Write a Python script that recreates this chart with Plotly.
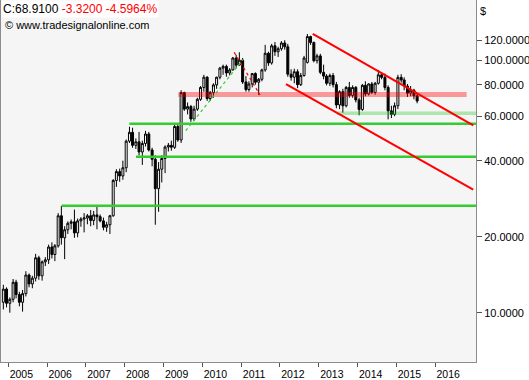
import plotly.graph_objects as go
import pandas as pd
import math

# ---- monthly OHLC (Nov 2004 .. Jul 2015) ----
opens = [11.0, 12.4, 10.9, 11.3, 13.2, 11.8, 11.0, 11.9, 14.1, 13.0, 13.7, 16.5, 14.0, 15.9, 16.2, 18.2, 17.0, 18.4, 24.2, 19.8,
         21.3, 22.6, 22.9, 20.7, 23.1, 23.5, 23.7, 24.2, 23.2, 24.4, 24.0, 23.1, 21.8, 22.3, 24.2, 33.4, 36.2, 34.8, 37.5, 47.8,
         51.8, 46.0, 47.5, 43.3, 46.8, 51.0, 44.1, 40.5, 31.0, 37.0, 40.8, 45.3, 46.0, 45.2, 54.6, 48.3, 74.4, 64.0, 65.5, 58.5,
         64.0, 70.0, 78.0, 85.6, 70.5, 74.4, 79.8, 85.6, 93.0, 94.5, 89.0, 91.5, 102.0, 95.6, 100.0, 82.0, 76.5, 80.5, 88.5, 81.8,
         84.0, 91.5, 106.5, 97.5, 114.0, 108.0, 111.0, 117.0, 113.0, 88.0, 85.6, 90.0, 80.0, 87.0, 98.0, 124.0, 117.5, 99.5, 104.0, 89.5,
         86.5, 81.0, 87.0, 80.0, 66.5, 75.0, 66.0, 78.0, 72.5, 78.0, 69.6, 63.8, 79.5, 73.5, 80.5, 74.5, 81.0, 87.5, 85.5, 78.0,
         63.0, 61.0, 66.0, 85.5, 83.5, 79.0, 74.0, 76.0, 72.23]
highs = [12.9, 12.6, 11.5, 13.6, 13.5, 12.1, 12.3, 14.6, 14.3, 14.0, 17.1, 16.8, 16.1, 16.6, 18.6, 19.0, 18.7, 24.8, 26.5, 22.0,
         23.0, 23.4, 25.6, 23.6, 23.9, 24.8, 24.6, 25.5, 25.3, 26.5, 24.5, 23.8, 22.9, 24.4, 33.8, 37.0, 37.2, 40.0, 48.5, 54.5,
         54.0, 49.0, 52.0, 48.0, 52.5, 52.0, 45.0, 42.0, 39.5, 42.0, 46.0, 47.0, 48.0, 55.5, 56.0, 76.0, 75.0, 68.0, 66.5, 66.0,
         71.0, 79.0, 87.5, 86.5, 75.5, 81.0, 86.0, 94.0, 96.0, 96.0, 93.0, 103.0, 105.0, 107.5, 102.0, 86.5, 82.5, 89.0, 89.5, 85.0,
         92.5, 115.0, 108.0, 116.0, 118.0, 113.0, 119.0, 120.0, 116.0, 92.0, 92.5, 92.0, 89.0, 104.0, 127.0, 125.0, 118.5, 106.0, 106.0, 96.0,
         88.0, 88.5, 89.0, 82.0, 76.0, 77.0, 79.0, 82.0, 79.5, 79.0, 71.0, 80.5, 82.5, 81.0, 82.0, 82.0, 91.5, 89.5, 88.5, 79.5,
         66.0, 68.0, 87.5, 88.0, 85.5, 80.5, 79.0, 77.0, 74.0]
lows = [10.3, 10.5, 10.0, 11.0, 11.4, 10.6, 10.1, 11.6, 12.6, 12.5, 13.3, 13.5, 13.4, 15.3, 15.6, 16.4, 16.0, 18.1, 18.6, 16.3,
        20.5, 21.4, 19.8, 19.9, 21.9, 20.8, 22.4, 22.0, 22.2, 21.4, 22.8, 21.2, 20.9, 20.5, 24.0, 31.5, 33.0, 33.6, 36.0, 47.0,
        45.0, 44.5, 42.0, 38.5, 45.5, 43.5, 38.0, 22.3, 25.1, 32.8, 35.7, 43.5, 43.8, 44.5, 47.5, 47.0, 63.0, 61.0, 57.0, 57.5,
        63.0, 69.0, 75.0, 69.0, 69.0, 71.0, 77.0, 84.0, 87.5, 86.0, 87.0, 91.0, 93.0, 95.0, 80.5, 75.0, 75.0, 78.0, 80.0, 72.8,
        82.5, 90.0, 95.0, 96.0, 104.0, 103.0, 109.0, 110.0, 86.0, 83.0, 81.0, 77.5, 79.0, 86.0, 97.0, 115.0, 98.0, 97.0, 88.0, 84.0,
        79.5, 79.0, 78.0, 64.5, 64.0, 62.0, 65.0, 71.0, 71.0, 68.0, 60.5, 63.0, 72.0, 72.5, 73.5, 73.0, 80.0, 84.0, 76.0, 58.3,
        59.0, 60.0, 64.0, 81.5, 76.0, 71.5, 72.0, 70.0, 67.5]
closes = [12.4, 10.9, 11.3, 13.2, 11.8, 11.0, 11.9, 14.1, 13.0, 13.7, 16.5, 14.0, 15.9, 16.2, 18.2, 17.0, 18.4, 24.2, 19.8, 21.3,
          22.6, 22.9, 20.7, 23.1, 23.5, 23.7, 24.2, 23.2, 24.4, 24.0, 23.1, 21.8, 22.3, 24.2, 33.4, 36.2, 34.8, 37.5, 47.8, 51.8,
          46.0, 47.5, 43.3, 46.8, 51.0, 44.1, 40.5, 31.0, 37.0, 40.8, 45.3, 46.0, 45.2, 54.6, 48.3, 74.4, 64.0, 65.5, 58.5, 64.0,
          70.0, 78.0, 85.6, 70.5, 74.4, 79.8, 85.6, 93.0, 94.5, 89.0, 91.5, 102.0, 95.6, 100.0, 82.0, 76.5, 80.5, 88.5, 81.8, 84.0,
          91.5, 106.5, 97.5, 114.0, 108.0, 111.0, 117.0, 113.0, 88.0, 85.6, 90.0, 80.0, 87.0, 102.0, 124.0, 117.5, 99.5, 104.0, 89.5, 86.5,
          81.0, 87.0, 80.0, 66.5, 75.0, 66.0, 78.0, 72.5, 78.0, 69.6, 63.8, 79.5, 73.5, 80.5, 74.5, 81.0, 87.5, 85.5, 78.0, 63.0,
          61.0, 66.0, 85.5, 83.5, 79.0, 74.0, 76.0, 72.23, 68.91]
first_month = "2004-11-01"

# ---- drawing tools (support / resistance lines) ----
green_levels = [56.0, 41.5, 26.5]
green_starts = ["2008-02-14", "2008-04-16", "2006-05-18"]
red_zone = [71.5, 74.8]
red_zone_dates = ["2009-05-19", "2016-10-23"]
green_zone = [60.6, 62.6]
green_zone_dates = ["2013-06-18", "2017-01-19"]
channel_upper_dates = ["2012-11-05", "2016-12-24"]
channel_upper_vals = [127.0, 55.2]
channel_lower_dates = ["2012-02-27", "2016-12-24"]
channel_lower_vals = [80.3, 30.7]
red_dot_dates = ["2010-10-27", "2011-06-28"]
red_dot_vals = [107.5, 72.8]
green_dot_dates = ["2009-07-28", "2011-01-21"]
green_dot_vals = [52.6, 100.8]

y_ticks = [10, 20, 40, 60, 80, 100, 120]
x_tick_years = [2005, 2006, 2007, 2008, 2009, 2010, 2011, 2012, 2013, 2014, 2015, 2016]
x_range = ["2004-10-24", "2017-01-19"]
y_range_vals = [6.38, 173.1]
right_end = "2017-01-19"

dates = pd.date_range(first_month, periods=len(closes), freq="MS") + pd.Timedelta(days=14)

fig = go.Figure()
fig.add_trace(go.Candlestick(
    x=dates, open=opens, high=highs, low=lows, close=closes,
    increasing=dict(line=dict(color="black", width=1), fillcolor="white"),
    decreasing=dict(line=dict(color="black", width=1), fillcolor="black"),
    whiskerwidth=0, showlegend=False, hoverinfo="skip"))

def band(d, v, color):
    fig.add_trace(go.Scatter(x=[d[0], d[1], d[1], d[0], d[0]], y=[v[0], v[0], v[1], v[1], v[0]],
                             mode="lines", line=dict(width=0), fill="toself", fillcolor=color,
                             showlegend=False, hoverinfo="skip"))

band(red_zone_dates, red_zone, "rgba(255,0,0,0.38)")
band(green_zone_dates, green_zone, "rgba(20,200,20,0.32)")

for lvl, st in zip(green_levels, green_starts):
    fig.add_trace(go.Scatter(x=[st, right_end], y=[lvl, lvl], mode="lines",
                             line=dict(color="#33cc33", width=2.5), showlegend=False, hoverinfo="skip"))

fig.add_trace(go.Scatter(x=channel_upper_dates, y=channel_upper_vals, mode="lines",
                         line=dict(color="#ff0000", width=2), showlegend=False, hoverinfo="skip"))
fig.add_trace(go.Scatter(x=channel_lower_dates, y=channel_lower_vals, mode="lines",
                         line=dict(color="#ff0000", width=2), showlegend=False, hoverinfo="skip"))
fig.add_trace(go.Scatter(x=red_dot_dates, y=red_dot_vals, mode="lines",
                         line=dict(color="#ff0000", width=1.2, dash="dot"), showlegend=False, hoverinfo="skip"))
fig.add_trace(go.Scatter(x=green_dot_dates, y=green_dot_vals, mode="lines",
                         line=dict(color="#33cc33", width=1.2, dash="dot"), showlegend=False, hoverinfo="skip"))

fig.update_layout(
    width=529, height=380,
    margin=dict(l=1, r=53, t=0, b=18),
    paper_bgcolor="white", plot_bgcolor="#f5f5f5",
    boxgap=0.05,
    font=dict(family="Liberation Sans, Arial, sans-serif", size=11, color="black"),
    xaxis=dict(type="date", range=x_range, rangeslider=dict(visible=False),
               showgrid=False, zeroline=False, showline=True, linecolor="#8c8c8c", linewidth=1, mirror=True,
               ticks="outside", ticklen=4, tickcolor="#555", tickwidth=1,
               tickvals=[f"{y}-01-01" for y in x_tick_years], ticktext=[str(y) for y in x_tick_years],
               ticklabelshift=13, ticklabelstandoff=-2,
               tickfont=dict(size=10.5, color="black")),
    yaxis=dict(type="log", side="right", range=[math.log10(y_range_vals[0]), math.log10(y_range_vals[1])],
               showgrid=False, zeroline=False, showline=True, linecolor="#8c8c8c", linewidth=1, mirror=True,
               ticks="outside", ticklen=5, tickcolor="#555", tickwidth=1,
               tickvals=y_ticks, ticktext=[f"{v:.4f}" for v in y_ticks],
               tickfont=dict(size=11, color="black")),
    annotations=[
        dict(xref="paper", yref="paper", x=0, y=1, xanchor="left", yanchor="top", showarrow=False,
             text="C:68.9100 <span style='color:#ff0000'>-3.3200 -4.5964%</span>",
             font=dict(size=12, color="black"), bgcolor="white", borderpad=1),
        dict(xref="paper", yref="paper", x=0, y=1, yshift=-17, xanchor="left", yanchor="top", showarrow=False,
             text="© www.tradesignalonline.com", font=dict(size=11, color="black"), xshift=2),
        dict(xref="paper", yref="paper", x=1, y=1, xshift=2, yshift=-3, xanchor="left", yanchor="top", showarrow=False,
             text="$", font=dict(size=11, color="black")),
    ],
)
fig.write_html("out.html", config={"displayModeBar": False},
               post_script="document.body.style.margin='0';document.body.style.padding='0';document.body.style.overflow='hidden';")
